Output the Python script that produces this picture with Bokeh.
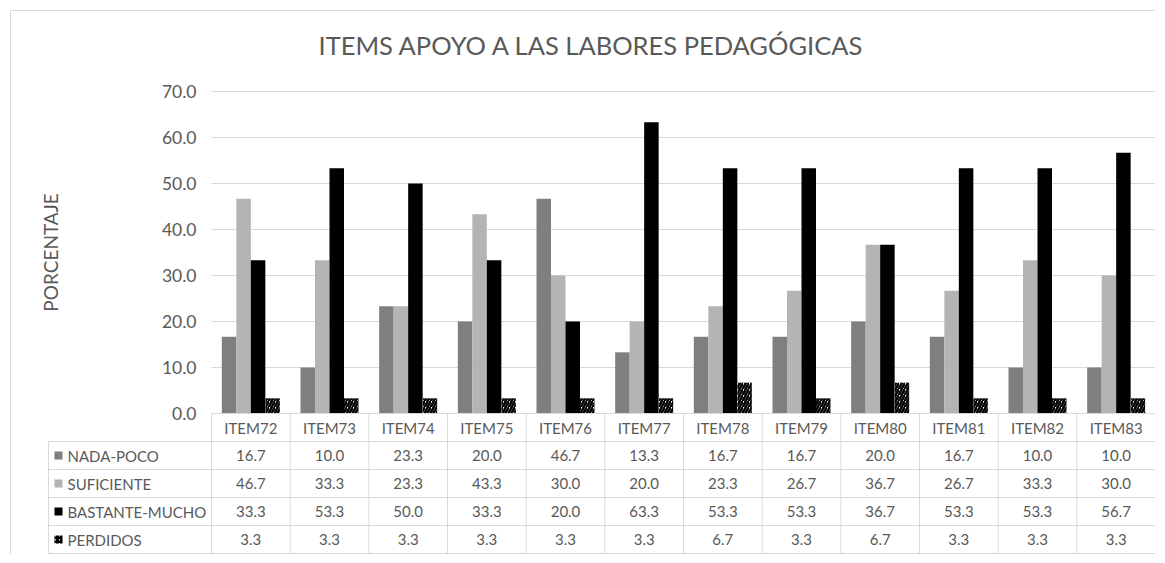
import math
from bokeh.plotting import figure
from bokeh.models import Range1d, FixedTicker, NumeralTickFormatter, ColumnDataSource
from bokeh.core.properties import value
from bokeh.embed import file_html
from bokeh.resources import INLINE

# ---------------- data ----------------
ITEMS = ["ITEM72", "ITEM73", "ITEM74", "ITEM75", "ITEM76", "ITEM77",
         "ITEM78", "ITEM79", "ITEM80", "ITEM81", "ITEM82", "ITEM83"]
SERIES = ["NADA-POCO", "SUFICIENTE", "BASTANTE-MUCHO", "PERDIDOS"]
NADA_POCO = [16.7, 10.0, 23.3, 20.0, 46.7, 13.3, 16.7, 16.7, 20.0, 16.7, 10.0, 10.0]
SUFICIENTE = [46.7, 33.3, 23.3, 43.3, 30.0, 20.0, 23.3, 26.7, 36.7, 26.7, 33.3, 30.0]
BASTANTE_MUCHO = [33.3, 53.3, 50.0, 33.3, 20.0, 63.3, 53.3, 53.3, 36.7, 53.3, 53.3, 56.7]
PERDIDOS = [3.3, 3.3, 3.3, 3.3, 3.3, 3.3, 6.7, 3.3, 6.7, 3.3, 3.3, 3.3]
Y_TICKS = [0, 10, 20, 30, 40, 50, 60, 70]
TITLE = "ITEMS APOYO A LAS LABORES PEDAGÓGICAS"
Y_LABEL = "PORCENTAJE"

# ---------------- style / layout ----------------
FONT = "Lato"
TXT = "#595959"
LINE = "#d9d9d9"
COLORS = ["#7f7f7f", "#b4b4b4", "#000000", "#ffffff"]

values = [NADA_POCO, SUFICIENTE, BASTANTE_MUCHO, PERDIDOS]
n = len(ITEMS)
W, H = 1145, 544
MBL, MBT = 19, 64
FRAME_W = W - MBL
FRAME_H = H - MBT
PXU = 944 / n                      # pixels per category
X_START = -181 / PXU               # label column lies left of the first category
X_END = X_START + FRAME_W / PXU
PYU = 4.6                          # pixels per percent
Y_START = -142 / PYU
Y_END = Y_START + FRAME_H / PYU
ROW = 28 / PYU                     # table row height in data units
LABEL_LEFT = -163 / PXU
BW = 14.5 / PXU

p = figure(width=W, height=H, x_range=Range1d(X_START, X_END), y_range=Range1d(Y_START, Y_END),
           x_axis_type=None, output_backend="svg", toolbar_location=None,
           min_border_left=MBL, min_border_right=0, min_border_top=MBT, min_border_bottom=0,
           margin=(10, 0, 0, 10),
           styles={"border-top": "1px solid #d9d9d9", "border-left": "1px solid #d9d9d9"})
p.outline_line_color = None
p.grid.visible = False

# y axis drawn at the left edge of the first category
ax = p.yaxis[0]
ax.fixed_location = 0
ax.ticker = FixedTicker(ticks=Y_TICKS)
ax.formatter = NumeralTickFormatter(format="0.0")
ax.axis_line_color = None
ax.major_tick_line_color = None
ax.minor_tick_line_color = None
ax.major_tick_out = 0
ax.major_label_standoff = 15
ax.major_label_text_font = FONT
ax.major_label_text_font_size = "17.5px"
ax.major_label_text_color = TXT

p.title.text = TITLE
p.title.text_font = FONT
p.title.text_font_size = "25.5px"
p.title.text_font_style = "normal"
p.title.text_color = TXT
p.title.align = "left"
p.title.offset = 288
p.title.standoff = 32

# y-axis title, centred on the tick span
p.text(x=[-161 / PXU], y=[(Y_TICKS[0] + Y_TICKS[-1]) / 2], text=[Y_LABEL], angle=math.pi / 2,
       text_align="center", text_baseline="middle", text_font=value(FONT),
       text_font_size="19px", text_color=TXT)

# horizontal gridlines over the category area
p.segment(x0=[0] * len(Y_TICKS), y0=Y_TICKS, x1=[n] * len(Y_TICKS), y1=Y_TICKS,
          line_color=LINE, line_width=1)

# bars
for k, (name, vals) in enumerate(zip(SERIES, values)):
    src = ColumnDataSource(dict(x=[i + 0.5 + (k - 1.5) * BW for i in range(n)], top=vals))
    kw = {}
    if k == 3:
        kw = dict(hatch_pattern="/", hatch_color="black", hatch_weight=2.5, hatch_scale=6)
    p.vbar(x="x", top="top", bottom=0, width=BW, source=src,
           fill_color=COLORS[k], line_color=None, **kw)

# data table
nrows = len(SERIES) + 1
hy = [-k * ROW for k in range(nrows + 1)]
hx0 = [0] + [LABEL_LEFT] * nrows
p.segment(x0=hx0, y0=hy, x1=[n] * len(hy), y1=hy, line_color=LINE, line_width=1)
vx = list(range(n + 1)) + [LABEL_LEFT]
vy0 = [0] * (n + 1) + [-ROW]
p.segment(x0=vx, y0=vy0, x1=vx, y1=[-nrows * ROW] * len(vx), line_color=LINE, line_width=1)

cx = [i + 0.5 for i in range(n)]
p.text(x=cx, y=[-0.5 * ROW] * n, text=ITEMS, text_align="center", text_baseline="middle",
       text_font=value(FONT), text_font_size="15px", text_color=TXT)
for r, vals in enumerate(values):
    p.text(x=cx, y=[-(r + 1.5) * ROW] * n, text=["%.1f" % v for v in vals],
           text_align="center", text_baseline="middle", text_font=value(FONT),
           text_font_size="15px", text_color=TXT)

key_x = LABEL_LEFT + 10 / PXU
lab_x = LABEL_LEFT + 19 / PXU
rows_y = [-(r + 1.5) * ROW for r in range(len(SERIES))]
p.scatter(x=[key_x] * 3, y=rows_y[:3], marker="square", size=8,
          fill_color=COLORS[:3], line_color=None)
p.scatter(x=[key_x], y=rows_y[3:], marker="square", size=8, fill_color="white",
          line_color=None, hatch_pattern="/", hatch_color="black", hatch_weight=2, hatch_scale=4)
p.text(x=[lab_x] * len(SERIES), y=rows_y, text=SERIES, text_align="left",
       text_baseline="middle", text_font=value(FONT), text_font_size="15px", text_color=TXT)

open("out.html", "w").write(file_html(p, INLINE))
